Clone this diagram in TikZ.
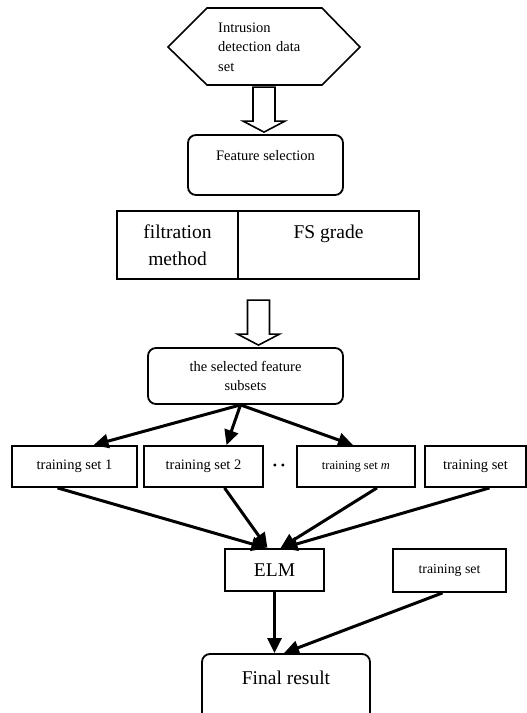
\documentclass[tikz,border=0pt]{standalone}
\usepackage{fontspec}
\setmainfont{Liberation Serif}
\usepackage{tikz}
\usetikzlibrary{arrows.meta}
\usetikzlibrary{calc}
\usetikzlibrary{positioning}

\newcommand{\hollowdown}[1]{%
    \draw[hollow] ($(#1)+(-11,-45)$) -- ($(#1)+(-11,-11)$) -- ($(#1)+(-21,-11)$) -- (#1)
        -- ($(#1)+(21,-11)$) -- ($(#1)+(11,-11)$) -- ($(#1)+(11,-45)$) -- cycle;}

\begin{document}
\begin{tikzpicture}[x=1pt, y=-1pt,
    box/.style={draw, line width=1.8pt, inner sep=2pt, align=center},
    roundbox/.style={box, rounded corners=8pt},
    small/.style={font=\fontsize{14.5}{19.5}\selectfont},
    large/.style={font=\fontsize{19.5}{26.7}\selectfont},
    hollow/.style={draw, line width=1.6pt, line join=miter},
    link/.style={line width=3pt, -{Triangle[length=15pt, width=14pt]}}]
    \useasboundingbox (0, 0) rectangle (527, 713);
    % data set
    \draw[hollow] (168, 47) -- (207, 8) -- (322, 8) -- (360, 47) -- (322, 85) -- (207, 85) -- cycle;
    \node[small, anchor=west, text width=100pt, align=left, inner sep=0pt] (data) at (218, 47) {Intrusion\\detection data\\set};
    \node[roundbox, small, minimum width=155pt, minimum height=60pt] (feat) at (265.5, 165) {Feature selection\\\mbox{}};
    \node[box, large, outer sep=0pt, minimum width=121pt, minimum height=68pt] (filt) at (177.5, 245) {filtration\\method};
    \node[box, large, outer sep=0pt, minimum width=181pt, minimum height=68pt, right=0pt of filt] (grade) {FS grade\\\mbox{}};
    \node[roundbox, small, minimum width=195pt, minimum height=56pt] (sel) at (245.5, 376) {the selected feature\\subsets};
    % training sets
    \node[box, small, minimum width=125pt, minimum height=41pt] (set1) at (74.5, 466.5) {training set 1};
    \node[box, small, minimum width=119pt, minimum height=41pt] (set2) at (203.5, 466.5) {training set 2};
    \node[font=\fontsize{12}{14}\selectfont, inner sep=0pt] (dots) at (279, 467) {\textbullet\hspace{4pt}\textbullet};
    \node[box, font=\fontsize{12.5}{15}\selectfont, minimum width=118pt, minimum height=41pt] (setm) at (356, 466.5) {training set \textit{m}};
    \node[box, small, minimum width=101pt, minimum height=41pt] (set4) at (475.5, 466.5) {training set};
    \node[box, large, minimum width=99pt, minimum height=42pt] (elm) at (274.5, 570) {ELM};
    \node[box, font=\fontsize{13.8}{16}\selectfont, minimum width=113pt, minimum height=43pt] (test) at (449.5, 570.5) {training set};
    \node[roundbox, large, minimum width=168pt, minimum height=74pt] (final) at (286, 691) {Final result\\\mbox{}};
    % hollow arrows
    \coordinate (tip1) at ([xshift=-1.5pt, yshift=2pt]feat.north);
    \coordinate (tip2) at ([xshift=13pt, yshift=2pt]sel.north);
    \hollowdown{tip1}
    \hollowdown{tip2}
    % links
    \foreach \s/\d in {set1/19, set2/23, setm/-3}
        \draw[link] ([xshift=-5pt]sel.south) -- ([xshift=\d pt]\s.north);
    \draw[link] ([xshift=-17pt]set1.south) -- ([xshift=-8pt]elm.north);
    \draw[link] ([xshift=21pt]set2.south) -- ([xshift=-7pt]elm.north);
    \draw[link] ([xshift=21pt]setm.south) -- ([xshift=6pt]elm.north);
    \draw[link] ([xshift=14pt]set4.south) -- ([xshift=8pt]elm.north);
    \draw[link] (elm.south) -- (elm.south |- final.north);
    \draw[link] ([xshift=-7pt]test.south) -- ([xshift=-2pt]final.north);
\end{tikzpicture}
\end{document}
